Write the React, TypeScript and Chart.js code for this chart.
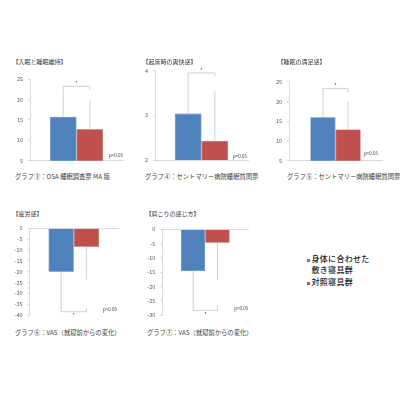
import React, { useEffect, useRef } from "react";
import { Chart, registerables } from "chart.js";

Chart.register(...registerables);

// ---- data ----
const seriesNames = ["身体に合わせた敷き寝具群", "対照寝具群"];
const legendLines = [["身体に合わせた", "敷き寝具群"], ["対照寝具群"]];
const titles = ["【入眠と睡眠維持】", "【起床時の爽快感】", "【睡眠の満足感】", "【疲労感】", "【肩こりの感じ方】"];
const captions = [
  "グラフ③：OSA 睡眠調査票 MA 版",
  "グラフ④：セントマリー病院睡眠質問票",
  "グラフ⑤：セントマリー病院睡眠質問票",
  "グラフ⑥：VAS（就寝前からの変化）",
  "グラフ⑦：VAS（就寝前からの変化）",
];
const fittedMeans = [15.8, 3.04, 16.0, -20.0, -14.6];
const controlMeans = [12.7, 2.43, 12.9, -8.5, -4.7];
const fittedErrEnd = [22.4, 3.87, 22.3, -36.9, -26.8];
const controlErrEnd = [19.7, 3.54, 19.9, -23.9, -17.7];
const bracketValues = [23.3, 3.95, 23.3, -38.5, -28.4];
const axisMin = [5, 2, 5, -40, -30];
const axisMax = [25, 4, 25, 0, 0];
const axisStep = [5, 1, 5, 5, 5];
const pLabel = "p<0.05";
const starLabel = "*";

// ---- layout / style ----
const FONT = '"Noto Sans CJK JP", "Noto Sans", sans-serif';
const BLUE = "#4F81BD";
const BLUE_EDGE = "#3D6CA3";
const RED = "#C0504D";
const RED_EDGE = "#A23F3C";
const AXIS = "#d0d0d0";

type Box = { left: number; top: number; width: number; height: number; l: number; t: number; r: number; b: number; cat: number; pdx: number; pdy: number; titleX: number; titleY: number; capX: number; capY: number };
const boxes: Box[] = [
  { left: 0, top: 70, width: 130, height: 100, l: 30, t: 79.3, r: 123, b: 160.7, cat: 0.574, pdx: 0, pdy: -5, titleX: 12.5, titleY: 61.5, capX: 15, capY: 176.7 },
  { left: 130, top: 60, width: 130, height: 110, l: 155, t: 70.7, r: 248, b: 160, cat: 0.574, pdx: -1, pdy: -4, titleX: 142.5, titleY: 61.5, capX: 145, capY: 176.7 },
  { left: 260, top: 70, width: 130, height: 100, l: 289, t: 81.7, r: 382, b: 160.7, cat: 0.54, pdx: -4, pdy: -7.4, titleX: 277.5, titleY: 61.5, capX: 287, capY: 176.7 },
  { left: 0, top: 220, width: 130, height: 105, l: 29.5, t: 228.3, r: 118, b: 315, cat: 0.57, pdx: -1, pdy: -6, titleX: 12.5, titleY: 213.5, capX: 15, capY: 332.7 },
  { left: 130, top: 220, width: 130, height: 105, l: 162.3, t: 229.3, r: 248.3, b: 315, cat: 0.565, pdx: 0, pdy: -6.7, titleX: 145.5, titleY: 213.5, capX: 147, capY: 332.7 },
];

const bracketPlugin = {
  id: "bracketPlugin",
  afterDatasetsDraw(chart: any, _args: any, opts: any) {
    const { ctx, scales, chartArea } = chart;
    const y = scales.y;
    const b0 = chart.getDatasetMeta(0).data[0];
    const b1 = chart.getDatasetMeta(1).data[0];
    if (!b0 || !b1) return;
    const i = opts.index;
    const yv = (v: number) => y.getPixelForValue(v);
    ctx.save();
    ctx.strokeStyle = "#c4c4c4";
    ctx.lineWidth = 0.8;
    ctx.beginPath();
    ctx.moveTo(b0.x, b0.y);
    ctx.lineTo(b0.x, yv(fittedErrEnd[i]));
    ctx.moveTo(b1.x, b1.y);
    ctx.lineTo(b1.x, yv(controlErrEnd[i]));
    const by = yv(bracketValues[i]);
    const ly = yv(fittedErrEnd[i]);
    ctx.moveTo(b0.x, ly);
    ctx.lineTo(b0.x, by);
    ctx.lineTo(b1.x, by);
    ctx.lineTo(b1.x, ly);
    ctx.stroke();
    const positive = bracketValues[i] > 0;
    ctx.fillStyle = "#404040";
    ctx.textAlign = "center";
    ctx.textBaseline = "middle";
    ctx.font = `5px ${FONT}`;
    ctx.fillText(starLabel, (b0.x + b1.x) / 2, by + (positive ? -3 : 3.5));
    ctx.textAlign = "right";
    ctx.font = `4.5px ${FONT}`;
    ctx.fillText(pLabel, chartArea.right + opts.pdx, chartArea.bottom + opts.pdy);
    ctx.restore();
  },
};

function Panel({ index }: { index: number }) {
  const ref = useRef<HTMLCanvasElement | null>(null);
  const box = boxes[index];
  useEffect(() => {
    if (!ref.current) return;
    const negative = axisMax[index] <= 0;
    const yWidth = box.l - box.left;
    const chart = new Chart(ref.current, {
      type: "bar",
      data: {
        labels: [""],
        datasets: [
          { label: seriesNames[0], data: [fittedMeans[index]], backgroundColor: BLUE, borderColor: BLUE_EDGE, borderWidth: 0.6 },
          { label: seriesNames[1], data: [controlMeans[index]], backgroundColor: RED, borderColor: RED_EDGE, borderWidth: 0.6 },
        ],
      },
      options: {
        animation: false,
        responsive: false,
        maintainAspectRatio: false,
        layout: {
          padding: {
            left: 0,
            top: box.t - box.top,
            right: box.left + box.width - box.r,
            bottom: box.top + box.height - box.b,
          },
        },
        datasets: { bar: { barPercentage: 1, categoryPercentage: box.cat } },
        plugins: {
          legend: { display: false },
          tooltip: { enabled: false },
          title: { display: false },
          bracketPlugin: { index, pdx: box.pdx, pdy: box.pdy },
        } as any,
        scales: {
          x: {
            position: negative ? "top" : "bottom",
            grid: { display: false, drawTicks: false },
            ticks: { display: false },
            border: { display: true, color: AXIS, width: 0.8 },
          },
          y: {
            min: axisMin[index],
            max: axisMax[index],
            afterFit: (s: any) => {
              s.width = yWidth;
            },
            grid: { display: true, drawOnChartArea: false, drawTicks: true, tickLength: 2, color: AXIS, lineWidth: 0.8 },
            border: { display: true, color: AXIS, width: 0.8 },
            ticks: { stepSize: axisStep[index], padding: 5, color: "#595959", font: { size: 5.5, family: FONT } },
          },
        },
      },
      plugins: [bracketPlugin],
    } as any);
    return () => chart.destroy();
  }, [index]);
  return (
    <>
      <canvas
        ref={ref}
        width={box.width}
        height={box.height}
        style={{ position: "absolute", left: box.left, top: box.top, width: box.width, height: box.height }}
      />
      <div style={{ position: "absolute", left: box.titleX, top: box.titleY - 3.5, fontSize: 6, lineHeight: "7px", whiteSpace: "nowrap", color: "#333", fontFamily: FONT }}>
        {titles[index]}
      </div>
      <div style={{ position: "absolute", left: box.capX, top: box.capY - 4, fontSize: 6.3, lineHeight: "8px", whiteSpace: "nowrap", color: "#404040", fontFamily: FONT }}>
        {captions[index]}
      </div>
    </>
  );
}

export default function App() {
  const colors = [BLUE, RED];
  const legendTops = [254, 277.3];
  return (
    <div style={{ position: "absolute", left: 0, top: 0, width: 400, height: 400, background: "#fff", overflow: "hidden" }}>
      {boxes.map((_, i) => (
        <Panel key={i} index={i} />
      ))}
      {legendLines.map((lines, i) => (
        <div key={i} style={{ position: "absolute", left: 306.5, top: legendTops[i], fontFamily: FONT, fontSize: 8, letterSpacing: "0.3px", lineHeight: "10.7px", color: "#222", fontWeight: 500 }}>
          <div style={{ position: "absolute", left: 0, top: 4.6, width: 3.5, height: 3.5, background: colors[i] }} />
          <div style={{ position: "absolute", left: 5, top: 0, whiteSpace: "nowrap" }}>
            {lines.map((t, j) => (
              <div key={j}>{t}</div>
            ))}
          </div>
        </div>
      ))}
    </div>
  );
}
